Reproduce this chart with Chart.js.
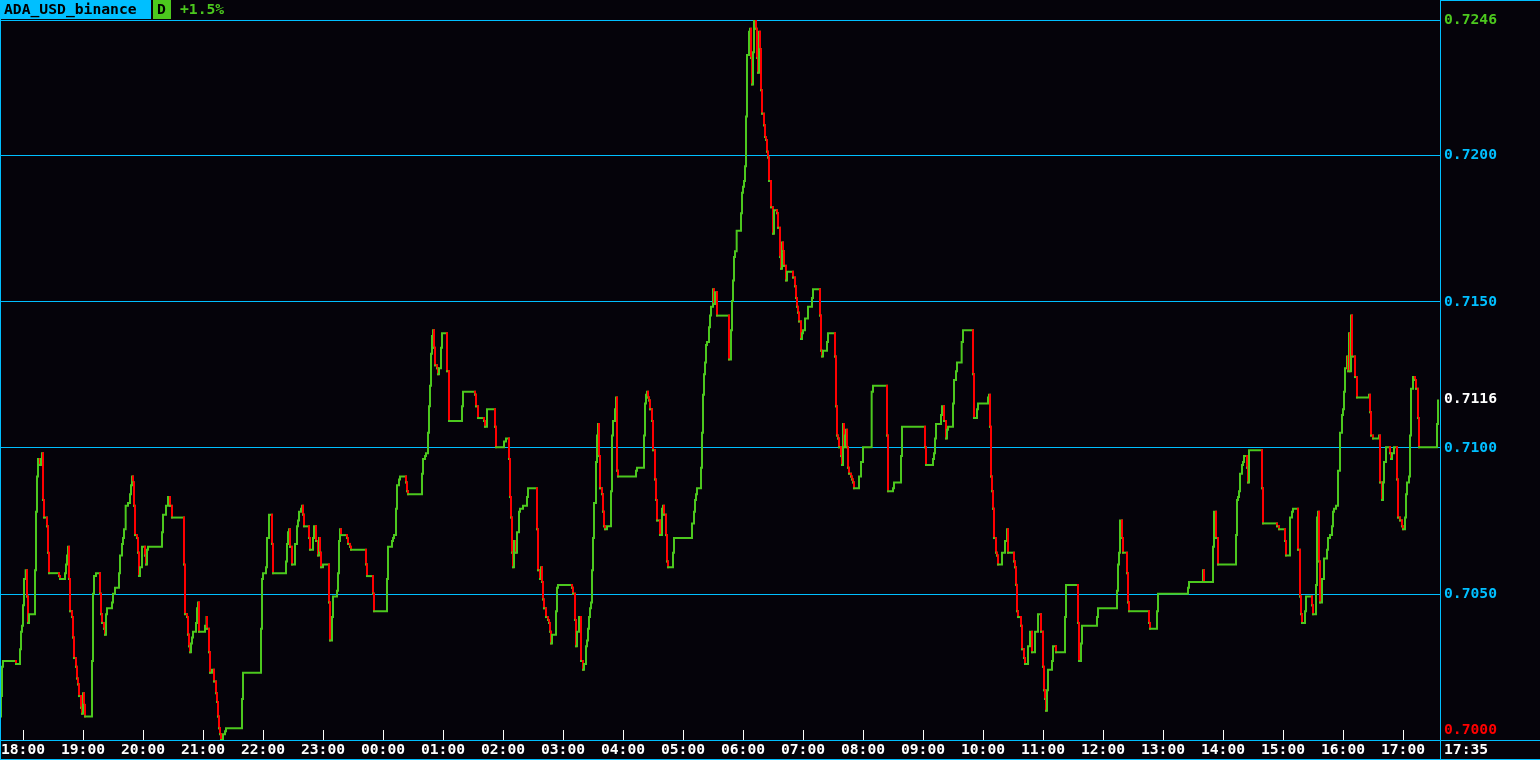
<!DOCTYPE html>
<html>
<head>
<meta charset="utf-8">
<title>ADA_USD_binance</title>
<script src="https://cdn.jsdelivr.net/npm/chart.js@4/dist/chart.umd.min.js"></script>
<style>
  html, body { margin: 0; padding: 0; background: #05030a; overflow: hidden; }
  canvas { display: block; }
</style>
</head>
<body>
<canvas id="myChart" width="1540" height="760"></canvas>
<script>
'use strict';

let symbolName = 'ADA_USD_binance';
let periodName = 'D';
let dayChange = '+1.5%';

// minute of each price change (0 = 17:37), and the close after it
let barIndex = [
  0, 1, 2, 3, 16, 20, 21, 22, 23, 24, 25, 26, 27, 28, 29, 35, 36, 37, 38, 40, 41, 42, 43, 44, 47, 48, 49, 59, 60, 65,
  66, 67, 68, 69, 70, 72, 73, 74, 76, 77, 78, 79, 81, 82, 83, 84, 85, 92, 93, 94, 96, 100, 101, 102, 104, 105, 106, 107, 112, 113,
  115, 119, 120, 122, 123, 124, 125, 126, 128, 130, 131, 132, 133, 134, 135, 137, 138, 139, 140, 142, 145, 146, 147, 148, 162, 163, 166, 168, 170, 172,
  184, 185, 187, 188, 189, 190, 191, 192, 193, 196, 197, 198, 199, 205, 206, 207, 209, 210, 212, 214, 216, 217, 218, 219, 220, 221, 223, 225, 226, 242,
  243, 261, 262, 263, 266, 267, 269, 272, 273, 286, 287, 288, 289, 290, 292, 295, 297, 298, 299, 301, 302, 303, 304, 309, 310, 313, 314, 316, 318, 319,
  320, 321, 323, 329, 330, 332, 333, 337, 338, 339, 340, 341, 347, 348, 350, 351, 366, 367, 373, 374, 387, 388, 392, 393, 394, 396, 397, 399, 400, 406,
  407, 408, 422, 423, 425, 426, 428, 429, 430, 431, 432, 433, 434, 435, 437, 438, 439, 441, 442, 447, 449, 462, 463, 475, 476, 478, 484, 485, 487, 495,
  496, 504, 506, 509, 510, 511, 512, 513, 514, 516, 517, 519, 520, 523, 527, 528, 537, 538, 540, 541, 542, 543, 544, 546, 548, 549, 550, 551, 552, 556,
  557, 558, 572, 573, 575, 576, 577, 579, 581, 583, 584, 586, 587, 588, 589, 590, 591, 592, 593, 594, 596, 597, 598, 599, 600, 602, 603, 604, 605, 607,
  611, 612, 613, 615, 616, 617, 618, 636, 637, 644, 645, 646, 647, 648, 649, 650, 652, 653, 655, 656, 657, 660, 662, 663, 664, 666, 667, 668, 673, 674,
  692, 694, 695, 696, 697, 701, 702, 703, 704, 705, 706, 707, 709, 710, 711, 713, 714, 715, 717, 729, 731, 732, 733, 734, 735, 736, 737, 741, 742, 743,
  744, 745, 746, 747, 749, 750, 751, 752, 753, 754, 756, 757, 758, 759, 760, 761, 762, 764, 765, 766, 767, 768, 769, 771, 773, 774, 777, 778, 780, 781,
  782, 783, 784, 786, 787, 793, 795, 796, 797, 798, 799, 801, 802, 803, 805, 808, 812, 813, 820, 821, 822, 823, 827, 828, 835, 836, 837, 838, 839, 841,
  842, 843, 844, 845, 846, 847, 848, 849, 851, 852, 853, 854, 859, 861, 863, 871, 872, 873, 887, 888, 893, 894, 901, 902, 925, 926, 933, 934, 935, 936,
  941, 942, 944, 946, 947, 948, 953, 954, 956, 957, 961, 962, 963, 973, 974, 977, 978, 988, 989, 990, 991, 992, 993, 994, 996, 997, 998, 1002, 1005, 1007,
  1008, 1014, 1015, 1016, 1017, 1018, 1021, 1022, 1024, 1025, 1028, 1030, 1032, 1035, 1038, 1041, 1043, 1044, 1045, 1046, 1047, 1048, 1052, 1053, 1056, 1065, 1066, 1078, 1079, 1081,
  1082, 1097, 1098, 1117, 1118, 1119, 1120, 1122, 1123, 1127, 1128, 1129, 1149, 1150, 1157, 1158, 1188, 1189, 1203, 1204, 1213, 1214, 1216, 1218, 1236, 1237, 1238, 1239, 1240, 1242,
  1243, 1244, 1247, 1248, 1249, 1262, 1263, 1277, 1279, 1285, 1286, 1290, 1292, 1293, 1298, 1300, 1301, 1302, 1305, 1306, 1312, 1313, 1316, 1317, 1318, 1319, 1320, 1322, 1324, 1327,
  1328, 1330, 1332, 1333, 1334, 1336, 1338, 1340, 1342, 1343, 1344, 1345, 1347, 1348, 1349, 1350, 1351, 1352, 1355, 1357, 1369, 1370, 1371, 1373, 1379, 1380, 1382, 1383, 1384, 1386,
  1390, 1391, 1392, 1394, 1397, 1398, 1400, 1402, 1403, 1405, 1406, 1407, 1409, 1410, 1411, 1413, 1415, 1416, 1418, 1419, 1437, 1438
];

let closePrice = [
  0.7008, 0.7015, 0.7025, 0.7027, 0.7026, 0.7031, 0.7037, 0.7039, 0.7046, 0.7055, 0.7057, 0.7058, 0.7049, 0.7040, 0.7043, 0.7058, 0.7078, 0.7090, 0.7096, 0.7094, 0.7096, 0.7098, 0.7082, 0.7076, 0.7073, 0.7064, 0.7057, 0.7056, 0.7055, 0.7057,
  0.7060, 0.7063, 0.7066, 0.7055, 0.7044, 0.7042, 0.7035, 0.7028, 0.7025, 0.7021, 0.7019, 0.7015, 0.7011, 0.7009, 0.7016, 0.7012, 0.7008, 0.7027, 0.7050, 0.7056, 0.7057, 0.7050, 0.7043, 0.7040, 0.7038, 0.7036, 0.7043, 0.7045, 0.7047, 0.7050,
  0.7052, 0.7057, 0.7063, 0.7067, 0.7069, 0.7072, 0.7079, 0.7080, 0.7081, 0.7084, 0.7087, 0.7090, 0.7088, 0.7080, 0.7070, 0.7069, 0.7064, 0.7056, 0.7059, 0.7066, 0.7063, 0.7060, 0.7065, 0.7066, 0.7071, 0.7077, 0.7080, 0.7083, 0.7080, 0.7076,
  0.7060, 0.7043, 0.7042, 0.7036, 0.7032, 0.7030, 0.7033, 0.7035, 0.7037, 0.7040, 0.7045, 0.7047, 0.7037, 0.7039, 0.7042, 0.7038, 0.7030, 0.7023, 0.7024, 0.7020, 0.7016, 0.7013, 0.7008, 0.7004, 0.7002, 0.7000, 0.7002, 0.7003, 0.7004, 0.7014,
  0.7023, 0.7038, 0.7055, 0.7057, 0.7059, 0.7069, 0.7077, 0.7067, 0.7057, 0.7061, 0.7067, 0.7071, 0.7072, 0.7066, 0.7060, 0.7067, 0.7073, 0.7075, 0.7078, 0.7079, 0.7080, 0.7077, 0.7073, 0.7069, 0.7065, 0.7069, 0.7073, 0.7068, 0.7063, 0.7069,
  0.7064, 0.7059, 0.7060, 0.7047, 0.7034, 0.7042, 0.7049, 0.7051, 0.7057, 0.7068, 0.7072, 0.7070, 0.7069, 0.7067, 0.7066, 0.7065, 0.7060, 0.7056, 0.7050, 0.7044, 0.7055, 0.7066, 0.7068, 0.7069, 0.7070, 0.7079, 0.7087, 0.7089, 0.7090, 0.7088,
  0.7085, 0.7084, 0.7091, 0.7096, 0.7097, 0.7098, 0.7105, 0.7114, 0.7121, 0.7132, 0.7138, 0.7140, 0.7134, 0.7128, 0.7127, 0.7125, 0.7127, 0.7134, 0.7139, 0.7126, 0.7109, 0.7114, 0.7119, 0.7118, 0.7114, 0.7110, 0.7109, 0.7107, 0.7113, 0.7107,
  0.7100, 0.7102, 0.7103, 0.7096, 0.7083, 0.7076, 0.7064, 0.7059, 0.7068, 0.7064, 0.7071, 0.7078, 0.7079, 0.7080, 0.7083, 0.7086, 0.7072, 0.7058, 0.7055, 0.7059, 0.7054, 0.7048, 0.7045, 0.7042, 0.7041, 0.7040, 0.7037, 0.7033, 0.7036, 0.7044,
  0.7052, 0.7053, 0.7052, 0.7050, 0.7041, 0.7032, 0.7037, 0.7042, 0.7027, 0.7024, 0.7026, 0.7032, 0.7034, 0.7038, 0.7042, 0.7045, 0.7047, 0.7058, 0.7069, 0.7081, 0.7095, 0.7104, 0.7108, 0.7097, 0.7086, 0.7084, 0.7078, 0.7073, 0.7072, 0.7073,
  0.7085, 0.7104, 0.7109, 0.7113, 0.7117, 0.7092, 0.7090, 0.7092, 0.7093, 0.7104, 0.7115, 0.7118, 0.7119, 0.7117, 0.7116, 0.7113, 0.7109, 0.7099, 0.7089, 0.7082, 0.7075, 0.7070, 0.7079, 0.7080, 0.7077, 0.7070, 0.7061, 0.7059, 0.7064, 0.7069,
  0.7074, 0.7078, 0.7082, 0.7084, 0.7086, 0.7093, 0.7105, 0.7118, 0.7125, 0.7129, 0.7135, 0.7136, 0.7141, 0.7145, 0.7148, 0.7154, 0.7149, 0.7153, 0.7145, 0.7130, 0.7140, 0.7150, 0.7157, 0.7165, 0.7167, 0.7168, 0.7174, 0.7180, 0.7187, 0.7189,
  0.7191, 0.7196, 0.7213, 0.7234, 0.7242, 0.7243, 0.7233, 0.7224, 0.7235, 0.7246, 0.7243, 0.7233, 0.7228, 0.7242, 0.7236, 0.7222, 0.7214, 0.7210, 0.7206, 0.7205, 0.7201, 0.7199, 0.7191, 0.7182, 0.7173, 0.7181, 0.7180, 0.7175, 0.7165, 0.7161,
  0.7170, 0.7167, 0.7162, 0.7157, 0.7160, 0.7158, 0.7155, 0.7151, 0.7148, 0.7146, 0.7143, 0.7137, 0.7139, 0.7140, 0.7144, 0.7148, 0.7151, 0.7154, 0.7145, 0.7133, 0.7131, 0.7133, 0.7136, 0.7139, 0.7131, 0.7114, 0.7104, 0.7103, 0.7100, 0.7097,
  0.7094, 0.7108, 0.7100, 0.7104, 0.7106, 0.7100, 0.7093, 0.7091, 0.7090, 0.7089, 0.7088, 0.7086, 0.7090, 0.7095, 0.7100, 0.7108, 0.7119, 0.7121, 0.7104, 0.7085, 0.7086, 0.7088, 0.7097, 0.7107, 0.7100, 0.7094, 0.7096, 0.7098, 0.7103, 0.7108,
  0.7111, 0.7114, 0.7109, 0.7103, 0.7106, 0.7107, 0.7115, 0.7123, 0.7126, 0.7129, 0.7131, 0.7136, 0.7140, 0.7125, 0.7110, 0.7113, 0.7115, 0.7117, 0.7118, 0.7107, 0.7090, 0.7085, 0.7079, 0.7069, 0.7064, 0.7063, 0.7060, 0.7064, 0.7068, 0.7072,
  0.7064, 0.7061, 0.7059, 0.7053, 0.7044, 0.7042, 0.7039, 0.7031, 0.7028, 0.7026, 0.7032, 0.7037, 0.7030, 0.7037, 0.7043, 0.7037, 0.7025, 0.7017, 0.7014, 0.7010, 0.7017, 0.7024, 0.7027, 0.7032, 0.7030, 0.7042, 0.7053, 0.7040, 0.7027, 0.7033,
  0.7039, 0.7042, 0.7045, 0.7051, 0.7060, 0.7064, 0.7075, 0.7069, 0.7064, 0.7057, 0.7047, 0.7044, 0.7040, 0.7038, 0.7044, 0.7050, 0.7052, 0.7054, 0.7058, 0.7054, 0.7066, 0.7078, 0.7069, 0.7060, 0.7070, 0.7082, 0.7083, 0.7085, 0.7091, 0.7094,
  0.7095, 0.7097, 0.7093, 0.7088, 0.7099, 0.7086, 0.7074, 0.7073, 0.7072, 0.7068, 0.7063, 0.7076, 0.7078, 0.7079, 0.7065, 0.7049, 0.7043, 0.7040, 0.7044, 0.7049, 0.7046, 0.7043, 0.7053, 0.7076, 0.7078, 0.7061, 0.7047, 0.7055, 0.7062, 0.7065,
  0.7069, 0.7070, 0.7073, 0.7078, 0.7079, 0.7080, 0.7092, 0.7105, 0.7111, 0.7113, 0.7119, 0.7127, 0.7131, 0.7126, 0.7139, 0.7126, 0.7145, 0.7131, 0.7124, 0.7117, 0.7118, 0.7112, 0.7104, 0.7103, 0.7104, 0.7088, 0.7082, 0.7088, 0.7095, 0.7100,
  0.7098, 0.7096, 0.7098, 0.7100, 0.7089, 0.7076, 0.7075, 0.7073, 0.7072, 0.7076, 0.7084, 0.7088, 0.7090, 0.7104, 0.7120, 0.7124, 0.7123, 0.7120, 0.7110, 0.7100, 0.7108, 0.7116
];

let priceTicks = [0.7200, 0.7150, 0.7100, 0.7050];
let priceHigh = 0.7246;
let priceLow = 0.7000;
let lastPrice = 0.7116;

let hourLabels = ['18:00', '19:00', '20:00', '21:00', '22:00', '23:00', '00:00', '01:00', '02:00', '03:00', '04:00', '05:00',
  '06:00', '07:00', '08:00', '09:00', '10:00', '11:00', '12:00', '13:00', '14:00', '15:00', '16:00', '17:00'];
let firstHourIndex = 23; // 18:00 is minute 23 after 17:37
let lastTime = '17:35';

let bgColor = '#05030a';
let cyan = '#00bfff';
let upColor = '#4cc81e';
let downColor = '#ff0000';
let txtFont = 'bold 14.7px "DejaVu Sans Mono", "Liberation Mono", monospace';

// stepped points: horizontal at old price, then vertical to new price
let stepPoints = [{x: barIndex[0], y: closePrice[0]}];
for (let i = 1; i < barIndex.length; i++) {
  stepPoints.push({x: barIndex[i], y: closePrice[i - 1]});
  stepPoints.push({x: barIndex[i], y: closePrice[i]});
}

function hLine(ctx, x1, x2, y, color) {
  ctx.strokeStyle = color;
  ctx.lineWidth = 1;
  ctx.beginPath();
  ctx.moveTo(x1, Math.round(y) + 0.5);
  ctx.lineTo(x2, Math.round(y) + 0.5);
  ctx.stroke();
}

function vLine(ctx, x, y1, y2, color) {
  ctx.strokeStyle = color;
  ctx.lineWidth = 1;
  ctx.beginPath();
  ctx.moveTo(Math.round(x) + 0.5, y1);
  ctx.lineTo(Math.round(x) + 0.5, y2);
  ctx.stroke();
}

let chartDecor = {
  id: 'chartDecor',
  beforeDraw(chart) {
    let ctx = chart.ctx;
    ctx.save();
    ctx.fillStyle = bgColor;
    ctx.fillRect(0, 0, chart.width, chart.height);
    ctx.restore();
  },
  beforeDatasetsDraw(chart) {
    let ctx = chart.ctx;
    let yS = chart.scales.y;
    let area = chart.chartArea;
    ctx.save();
    for (let i = 0; i < priceTicks.length; i++) {
      hLine(ctx, 0, area.right, yS.getPixelForValue(priceTicks[i]), cyan);
    }
    hLine(ctx, 0, area.right, yS.getPixelForValue(priceHigh), cyan);
    ctx.restore();
  },
  afterDraw(chart) {
    let ctx = chart.ctx;
    let xS = chart.scales.x;
    let yS = chart.scales.y;
    let area = chart.chartArea;
    let W = chart.width;
    let H = chart.height;
    ctx.save();

    // frame
    hLine(ctx, 0, W, yS.getPixelForValue(priceLow), cyan);
    hLine(ctx, 0, W, H - 1, cyan);
    hLine(ctx, area.right, W, 0, cyan);
    vLine(ctx, 0, 0, H, cyan);
    vLine(ctx, area.right, 0, H, cyan);

    ctx.font = txtFont;
    ctx.textBaseline = 'middle';
    let labelX = area.right + 4;

    // price labels
    ctx.textAlign = 'left';
    ctx.fillStyle = cyan;
    for (let i = 0; i < priceTicks.length; i++) {
      ctx.fillText(priceTicks[i].toFixed(4), labelX, yS.getPixelForValue(priceTicks[i]) + 1);
    }
    ctx.fillStyle = upColor;
    ctx.fillText(priceHigh.toFixed(4), labelX, yS.getPixelForValue(priceHigh) + 0.5);
    ctx.fillStyle = '#ffffff';
    ctx.fillText(lastPrice.toFixed(4), labelX, yS.getPixelForValue(lastPrice) - 1);
    ctx.fillStyle = downColor;
    ctx.fillText(priceLow.toFixed(4), labelX, yS.getPixelForValue(priceLow) - 10);

    // time axis
    let axisY = yS.getPixelForValue(priceLow);
    ctx.textAlign = 'center';
    ctx.fillStyle = '#ffffff';
    for (let i = 0; i < hourLabels.length; i++) {
      let px = xS.getPixelForValue(firstHourIndex + i * 60);
      vLine(ctx, px, axisY - 10, axisY, '#ffffff');
      ctx.fillText(hourLabels[i], px, axisY + 10.5);
    }
    ctx.textAlign = 'left';
    ctx.fillText(lastTime, labelX, axisY + 10.5);

    // title bar
    ctx.fillStyle = cyan;
    ctx.fillRect(0, 0, 151, 19);
    ctx.fillStyle = '#000000';
    ctx.fillText(symbolName, 4, 10);
    ctx.fillStyle = bgColor;
    ctx.fillRect(151, 0, 2, 19);
    ctx.fillStyle = upColor;
    ctx.fillRect(153, 0, 18, 19);
    ctx.fillStyle = '#000000';
    ctx.fillText(periodName, 157, 10);
    ctx.fillStyle = upColor;
    ctx.fillText(dayChange, 180, 10);

    ctx.restore();
  }
};

let ctxEl = document.getElementById('myChart').getContext('2d');
let priceChart = new Chart(ctxEl, {
  type: 'line',
  data: {
    datasets: [{
      data: stepPoints,
      borderWidth: 2,
      borderColor: upColor,
      borderCapStyle: 'square',
      pointRadius: 0,
      tension: 0,
      fill: false,
      segment: {
        borderColor: c => c.p1.parsed.y < c.p0.parsed.y ? downColor : upColor
      }
    }]
  },
  options: {
    responsive: false,
    animation: false,
    events: [],
    layout: {
      padding: {left: 0, right: 100, top: 20, bottom: 20}
    },
    plugins: {
      legend: {display: false},
      tooltip: {enabled: false}
    },
    scales: {
      x: {type: 'linear', min: 0, max: 1440, display: false},
      y: {type: 'linear', min: priceLow, max: priceHigh, display: false}
    }
  },
  plugins: [chartDecor]
});
</script>
</body>
</html>
